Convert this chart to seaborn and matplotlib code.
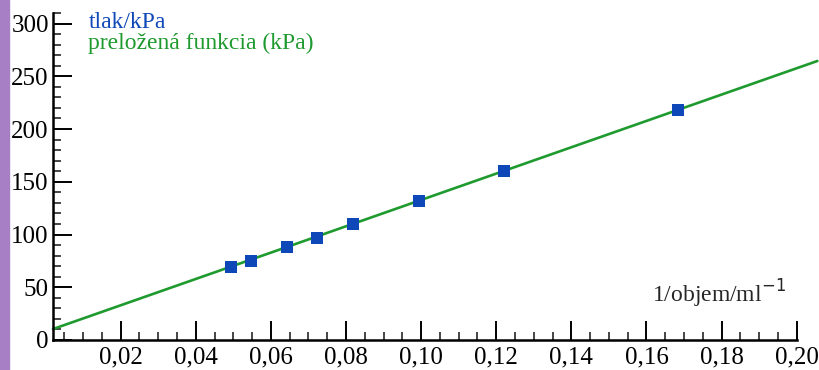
import matplotlib.pyplot as plt
from matplotlib.ticker import MultipleLocator, FuncFormatter
from matplotlib.patches import Rectangle
import seaborn as sns

sns.set_style("ticks")
plt.rcParams['font.family'] = ['Liberation Serif', 'DejaVu Serif']

# measured points: 1/volume (1/ml) vs pressure (kPa)
inv_volume = [0.0494, 0.0547, 0.0642, 0.0724, 0.0820, 0.0995, 0.1222, 0.1683]
pressure = [69, 75, 88, 97, 110, 132, 160, 218]

# fitted line endpoints (kPa)
fit_x = [0.002, 0.2055]
fit_y = [10.4, 264.5]

x_ticks = [0.02, 0.04, 0.06, 0.08, 0.10, 0.12, 0.14, 0.16, 0.18, 0.20]
y_ticks = [0, 50, 100, 150, 200, 250, 300]

blue = '#0e48b8'
green = '#1f9a2f'

fig = plt.figure(figsize=(8.19, 3.70), dpi=100)
fig.patches.append(Rectangle((0, 0), 9 / 819, 1, transform=fig.transFigure,
                             color='#a77fc4', zorder=0))
ax = fig.add_axes([53 / 819, 30 / 370, (796.7 - 53) / 819, (357 - 30) / 370])

sns.lineplot(x=fit_x, y=fit_y, ax=ax, color=green, linewidth=1.9,
             label='preložená funkcia (kPa)', clip_on=False, zorder=2)
sns.scatterplot(x=inv_volume, y=pressure, ax=ax, marker='s', s=75, color=blue,
                edgecolor=blue, linewidth=0, label='tlak/kPa', zorder=3)

ax.set_xlim(0.002, 0.20)
ax.set_ylim(0, 310)
ax.set_xticks(x_ticks)
ax.set_yticks(y_ticks)
ax.xaxis.set_minor_locator(MultipleLocator(0.005))
ax.yaxis.set_minor_locator(MultipleLocator(10))
ax.xaxis.set_major_formatter(FuncFormatter(lambda v, p: f'{v:.2f}'.replace('.', ',')))
ax.tick_params(axis='both', which='major', direction='in', length=14, width=1.4,
               labelsize=18, colors='black', pad=3)
ax.tick_params(axis='both', which='minor', direction='in', length=6, width=1.2)
ax.tick_params(axis='x', which='major', pad=5)

for s in ['top', 'right']:
    ax.spines[s].set_visible(False)
for s in ['left', 'bottom']:
    ax.spines[s].set_linewidth(1.8)
    ax.spines[s].set_color('black')

ax.set_xlabel('')
ax.set_ylabel('')
ax.text(0.985, 0.115, '1/objem/ml$^{-1}$', transform=ax.transAxes, ha='right',
        va='baseline', fontsize=17, family=['Liberation Serif', 'DejaVu Serif'])

handles, labels = ax.get_legend_handles_labels()
order = [labels.index('tlak/kPa'), labels.index('preložená funkcia (kPa)')]
leg = ax.legend([handles[i] for i in order], [labels[i] for i in order],
                loc='upper left', bbox_to_anchor=(0.035, 1.035), frameon=False,
                handlelength=0, handletextpad=0, fontsize=17, labelspacing=0.0,
                borderaxespad=0)
for h in leg.legend_handles:
    h.set_visible(False)
for t, c in zip(leg.get_texts(), [blue, green]):
    t.set_color(c)

fig.savefig('out.png', dpi=100)
